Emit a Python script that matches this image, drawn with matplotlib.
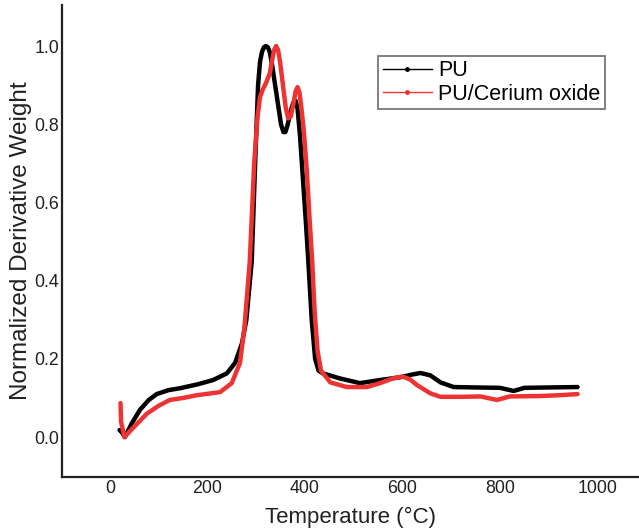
import matplotlib.pyplot as plt
from matplotlib.lines import Line2D

# PU curve (temperature in degC, normalized derivative weight)
temp_pu = [20, 25, 31, 45, 62, 80, 96, 120, 144, 180, 212, 240, 257, 271, 280,
           291, 298, 304, 308, 312, 316, 320, 324, 328, 333, 339, 345, 351, 356,
           360, 365, 370, 376, 381, 385, 390, 396, 402, 407, 414, 421, 428, 437,
           472, 513, 554, 595, 620, 637, 657, 678, 705, 750, 800, 828, 850, 900,
           959]
dtg_pu = [0.018, 0.012, 0.0, 0.035, 0.07, 0.095, 0.11, 0.12, 0.125, 0.135, 0.146,
          0.163, 0.19, 0.24, 0.3, 0.45, 0.7, 0.9, 0.96, 0.985, 0.997, 1.0, 0.997,
          0.985, 0.95, 0.9, 0.85, 0.8, 0.78, 0.78, 0.8, 0.83, 0.855, 0.86, 0.84,
          0.77, 0.66, 0.55, 0.45, 0.3, 0.2, 0.17, 0.163, 0.15, 0.138, 0.146,
          0.153, 0.16, 0.164, 0.158, 0.14, 0.128, 0.127, 0.126, 0.118, 0.126,
          0.127, 0.128]

# PU/Cerium oxide curve
temp_ce = [22, 23, 30, 45, 76, 100, 123, 150, 178, 226, 250, 267, 276, 287, 296,
           303, 308, 314, 320, 328, 333, 337, 341, 345, 349, 355, 361, 366, 371,
           376, 381, 385, 389, 393, 398, 404, 410, 415, 420, 426, 433, 452, 486,
           527, 554, 580, 600, 615, 630, 657, 678, 720, 760, 794, 820, 880, 920,
           959]
dtg_ce = [0.087, 0.04, 0.0, 0.02, 0.06, 0.08, 0.095, 0.1, 0.107, 0.115, 0.138,
          0.19, 0.28, 0.45, 0.7, 0.82, 0.87, 0.89, 0.905, 0.93, 0.965, 0.99, 1.0,
          0.99, 0.96, 0.9, 0.84, 0.815, 0.82, 0.85, 0.885, 0.895, 0.88, 0.84,
          0.78, 0.68, 0.55, 0.45, 0.32, 0.22, 0.17, 0.14, 0.128, 0.128, 0.138,
          0.15, 0.155, 0.148, 0.133, 0.112, 0.103, 0.103, 0.104, 0.095, 0.104,
          0.105, 0.107, 0.11]

x_ticks = [0, 200, 400, 600, 800, 1000]
y_ticks = [0.0, 0.2, 0.4, 0.6, 0.8, 1.0]

black = '#000000'
red = '#ee3333'
text_col = '#222222'

plt.rcParams['font.family'] = ['Liberation Sans', 'DejaVu Sans']

fig = plt.figure(figsize=(6.39, 5.30), dpi=100)
ax = fig.add_axes([62 / 639, 53 / 530, 1 - 62 / 639, 472 / 530])

ax.plot(temp_pu, dtg_pu, color=black, lw=3.2, solid_joinstyle='round',
        solid_capstyle='round')
ax.plot(temp_ce, dtg_ce, color=red, lw=3.2, solid_joinstyle='round',
        solid_capstyle='round')

ax.set_xlim(-98, 1085)
ax.set_ylim(-0.102, 1.105)
ax.set_xticks(x_ticks)
ax.set_yticks(y_ticks)
ax.set_yticklabels([f'{v:.1f}' for v in y_ticks])
ax.tick_params(length=0, labelsize=12.8, colors=text_col, pad=2)

for side in ['top', 'right']:
    ax.spines[side].set_visible(False)
for side in ['left', 'bottom']:
    ax.spines[side].set_linewidth(1.6)
    ax.spines[side].set_color('#222222')

ax.set_xlabel('Temperature (°C)', fontsize=16, color=text_col, labelpad=7)
ax.set_ylabel('Normalized Derivative Weight', fontsize=17.5, color=text_col,
              labelpad=2)

handles = [Line2D([], [], color=black, lw=1, marker='o', markersize=2.5),
           Line2D([], [], color=red, lw=1, marker='o', markersize=2.5)]
leg = ax.legend(handles, ['PU', 'PU/Cerium oxide'], loc='upper left',
                bbox_to_anchor=(0.548, 0.892), fontsize=15.5, fancybox=False,
                handlelength=2.3, handletextpad=0.3, borderpad=0.2,
                labelspacing=0.12, borderaxespad=0)
leg.get_frame().set_edgecolor('#555555')
leg.get_frame().set_linewidth(1.3)

fig.savefig('out.png', dpi=100)
